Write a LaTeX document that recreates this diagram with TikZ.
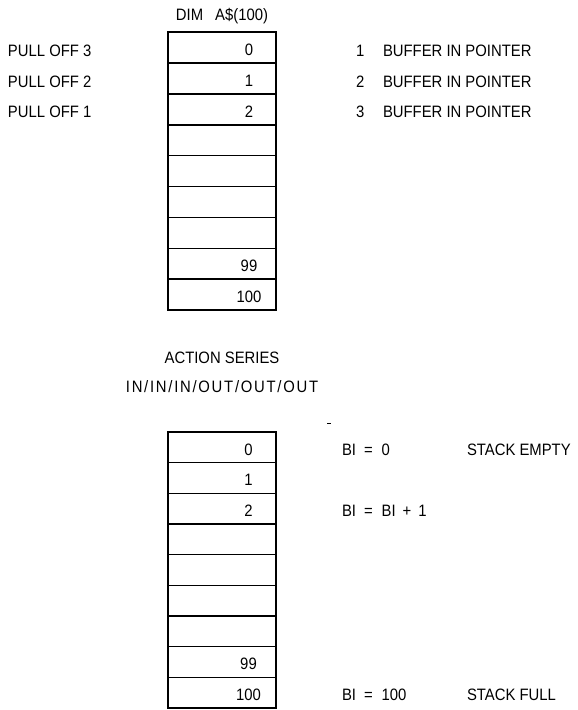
\documentclass[tikz,border=0pt]{standalone}
\usepackage{fontspec}
\setmainfont{Liberation Sans}[FakeStretch=0.9]
\newfontfamily\spacedfont{Liberation Sans}[FakeStretch=0.9,LetterSpace=10.5]
\begin{document}
\begin{tikzpicture}[x=1pt,y=-1pt,
  every node/.style={font=\fontsize{16.5}{18}\selectfont, inner sep=0pt, outer sep=0pt},
  cell/.style={draw, line width=1.6pt, minimum width=108pt, anchor=north west},
  tcell/.style={cell, minimum height=30.9pt},
  bcell/.style={cell, minimum height=30.67pt},
  num/.style={anchor=base},
  lab/.style={anchor=base west},
  ctr/.style={anchor=base}]
\useasboundingbox (0,0) rectangle (578,710);
% title
\node[ctr] (title) at (222,20.5) {DIM\hspace{12pt}A\$(100)};
% top stack
\foreach \i in {0,...,8} {
  \node[tcell] (t\i) at (168,{32+30.9*\i}) {};
}
\node[num] (tn0) at (249,{32+23.5}) {0};
\node[num] (tn1) at (249,{32+30.9+23.5}) {1};
\node[num] (tn2) at (249,{32+2*30.9+23.5}) {2};
\node[num] (tn7) at (249,{32+7*30.9+23.5}) {99};
\node[num] (tn8) at (249,{32+8*30.9+23.5}) {100};
% left labels
\node[lab] (p3) at (8,56.5) {PULL OFF 3};
\node[lab] (p2) at (8,87.5) {PULL OFF 2};
\node[lab] (p1) at (8,117.5) {PULL OFF 1};
% right labels
\node[lab] (r1n) at (356,56.5) {1};
\node[lab] (r2n) at (356,87.5) {2};
\node[lab] (r3n) at (356,117.5) {3};
\node[lab] (r1) at (383,56.5) {BUFFER IN POINTER};
\node[lab] (r2) at (383,87.5) {BUFFER IN POINTER};
\node[lab] (r3) at (383,117.5) {BUFFER IN POINTER};
% action series
\node[ctr] (act) at (222,363) {ACTION SERIES};
\node[ctr, font=\spacedfont\fontsize{16.5}{18}\selectfont] (ser) at (222,392) {IN/IN/IN/OUT/OUT/OUT};
% bottom stack
\foreach \i in {0,...,8} {
  \node[bcell] (b\i) at (168,{432+30.67*\i}) {};
}
\node[num] (bn0) at (248.5,{432+23.3}) {0};
\node[num] (bn1) at (248.5,{432+30.67+23.3}) {1};
\node[num] (bn2) at (248.5,{432+2*30.67+23.3}) {2};
\node[num] (bn7) at (248.5,{432+7*30.67+23.3}) {99};
\node[num] (bn8) at (248.5,{432+8*30.67+23.3}) {100};
% bottom right labels
\node[lab] (bi0) at (342,455.3) {BI\hspace{8pt}=\hspace{9pt}0};
\node[lab] (se) at (467,455.3) {STACK EMPTY};
\node[lab] (bi1) at (342,516.6) {BI\hspace{8pt}=\hspace{9pt}BI\hspace{7pt}+\hspace{7pt}1};
\node[lab] (bi2) at (342,700.7) {BI\hspace{8pt}=\hspace{9pt}100};
\node[lab] (sf) at (467,700.7) {STACK FULL};
% stray mark
\coordinate (m1) at (327,423);
\coordinate (m2) at (331,423);
\draw[line width=1pt] (m1) -- (m2);
\end{tikzpicture}
\end{document}
